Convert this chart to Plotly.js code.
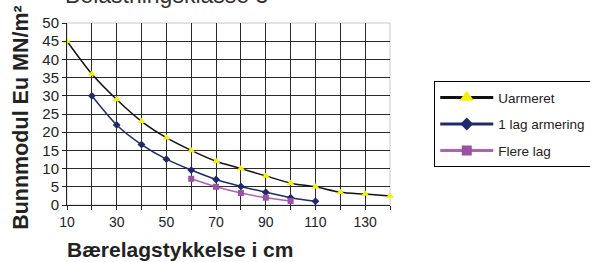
<!DOCTYPE html>
<html>
<head>
<meta charset="utf-8">
<script src="https://cdn.plot.ly/plotly-3.0.1.min.js"></script>
<style>html,body{margin:0;padding:0;background:#fff;}#chart{width:590px;height:262px;}</style>
</head>
<body>
<div id="chart"></div>
<script>
// Data
const xUarmeret = [10, 20, 30, 40, 50, 60, 70, 80, 90, 100, 110, 120, 130, 140];
const yUarmeret = [45, 36, 29, 23, 18.5, 15, 12, 10, 8, 6, 5, 3.5, 3, 2.5];
const xEnLag = [20, 30, 40, 50, 60, 70, 80, 90, 100, 110];
const yEnLag = [30, 22, 16.6, 12.6, 9.6, 7, 5.1, 3.5, 2, 1];
const xFlereLag = [60, 70, 80, 90, 100];
const yFlereLag = [7.2, 5, 3.3, 2, 1.1];
const seriesNames = ['Uarmeret', '1 lag armering', 'Flere lag'];
const xTickVals = [10, 20, 30, 40, 50, 60, 70, 80, 90, 100, 110, 120, 130, 140];
const xTickText = ['10', '', '30', '', '50', '', '70', '', '90', '', '110', '', '130', ''];
const xGridVals = [20, 30, 40, 50, 60, 70, 80, 90, 100, 110, 120, 130];
const yTickVals = [0, 5, 10, 15, 20, 25, 30, 35, 40, 45, 50];
const yGridVals = [5, 10, 15, 20, 25, 30, 35, 40, 45];
const chartTitle = 'Belastningsklasse 3';
const xTitle = 'Bærelagstykkelse i cm';
const yTitle = 'Bunnmodul Eu MN/m²';

const colors = {
  line: ['#111111', '#1f2a6e', '#b25fba'],
  marker: ['#f4f000', '#1f2a6e', '#9b4fa5'],
  symbol: ['triangle-up', 'diamond', 'square']
};
const plotSizes = [7, 6, 6];
const legendSizes = [13, 10, 10];

const xs = [xUarmeret, xEnLag, xFlereLag];
const ys = [yUarmeret, yEnLag, yFlereLag];

const traces = [];
for (let i = 0; i < 3; i++) {
  traces.push({
    x: xs[i], y: ys[i], type: 'scatter', mode: 'lines+markers',
    name: seriesNames[i], showlegend: false, cliponaxis: false,
    line: {color: colors.line[i], width: 1.5, shape: 'spline', smoothing: 0.8},
    marker: {color: colors.marker[i], symbol: colors.symbol[i], size: plotSizes[i], line: {width: 0}}
  });
}
for (let i = 0; i < 3; i++) {
  traces.push({
    x: [null], y: [null], type: 'scatter', mode: 'lines+markers',
    name: seriesNames[i], legendgroup: 'g' + i, showlegend: true,
    line: {color: colors.line[i], width: 3},
    marker: {color: colors.marker[i], symbol: colors.symbol[i], size: legendSizes[i], line: {width: 0}}
  });
}

const F = 'Liberation Sans, Arial, Helvetica, sans-serif';
const layout = {
  width: 590, height: 262,
  margin: {l: 67, r: 200, t: 23, b: 57, autoexpand: false},
  paper_bgcolor: '#ffffff', plot_bgcolor: '#ffffff',
  font: {family: F, color: '#222222'},
  showlegend: true,
  legend: {
    x: 1.137, xanchor: 'left', y: 0.68, yanchor: 'top',
    bordercolor: '#000000', borderwidth: 1, bgcolor: '#ffffff',
    font: {family: F, size: 13.5, color: '#222222'},
    itemwidth: 53, traceorder: 'grouped', tracegroupgap: 6, itemclick: false
  },
  xaxis: {
    range: [10, 140], tickmode: 'array', tickvals: xTickVals, ticktext: xTickText,
    showgrid: false, zeroline: false, showline: true, linecolor: '#222222', linewidth: 1,
    ticks: 'outside', ticklen: 4, tickcolor: '#222222', tickwidth: 1,
    tickfont: {family: F, size: 14, color: '#222222'},
    minor: {tickmode: 'array', tickvals: xGridVals, showgrid: true, gridcolor: '#2a2a2a', gridwidth: 1, ticks: ''}
  },
  yaxis: {
    range: [0, 50], tickmode: 'array', tickvals: yTickVals,
    showgrid: false, zeroline: false, showline: true, linecolor: '#222222', linewidth: 1,
    ticks: 'outside', ticklen: 4, tickcolor: '#222222', tickwidth: 1,
    tickfont: {family: F, size: 15, color: '#222222'},
    minor: {tickmode: 'array', tickvals: yGridVals, showgrid: true, gridcolor: '#2a2a2a', gridwidth: 1, ticks: ''}
  },
  shapes: [{
    type: 'rect', xref: 'paper', yref: 'paper', x0: 0, x1: 1, y0: 0, y1: 1,
    line: {color: '#c8c8c8', width: 1}, layer: 'below'
  }],
  annotations: [
    {text: chartTitle, xref: 'paper', yref: 'paper', x: -0.013, xanchor: 'left', y: 1.072, yanchor: 'bottom',
     showarrow: false, font: {family: F, size: 23, color: '#333333'}},
    {text: '<b>' + xTitle + '</b>', xref: 'paper', yref: 'paper', x: 0.35, xanchor: 'center', y: -0.247, yanchor: 'middle',
     showarrow: false, font: {family: F, size: 21, color: '#222222'}},
    {text: '<b>' + yTitle + '</b>', xref: 'paper', yref: 'paper', x: -0.145, xanchor: 'center', y: 0.48, yanchor: 'middle',
     textangle: -90, showarrow: false, font: {family: F, size: 21.5, color: '#222222'}}
  ]
};

Plotly.newPlot('chart', traces, layout, {displayModeBar: false, staticPlot: true});
</script>
</body>
</html>
